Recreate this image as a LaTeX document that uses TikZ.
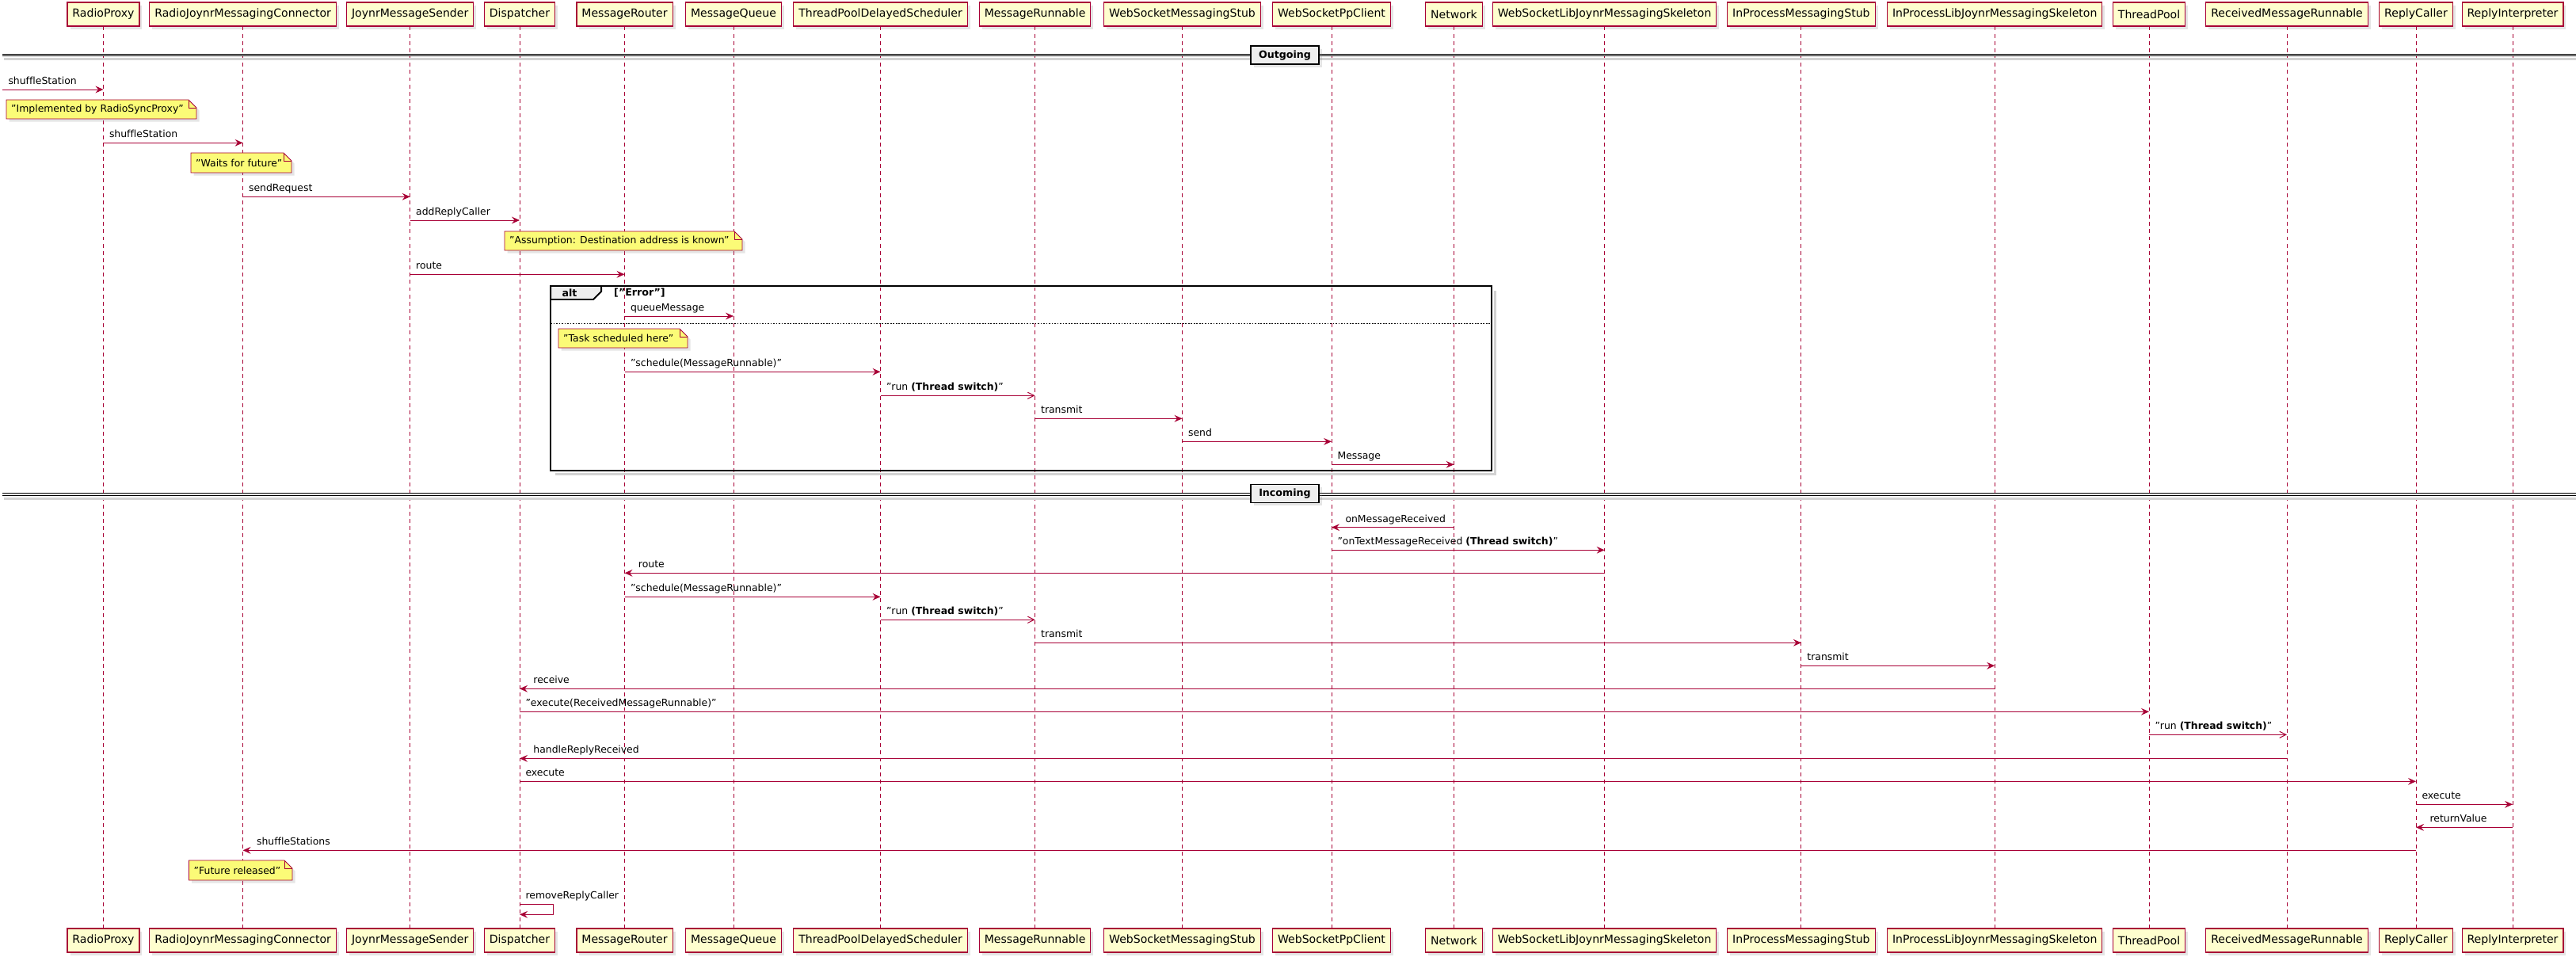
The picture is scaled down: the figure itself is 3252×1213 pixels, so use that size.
\documentclass[tikz,border=0pt]{standalone}
\usepackage{fontspec}
\setmainfont{DejaVu Sans}[Ligatures=CommonOff]
\usepackage{tikz}
\usetikzlibrary{arrows.meta,calc,shadows}
\definecolor{umlred}{HTML}{A80036}
\definecolor{partfill}{HTML}{FEFECE}
\definecolor{notefill}{HTML}{FBFB77}
\definecolor{sepfill}{HTML}{EEEEEE}
\tikzset{
	part/.style={draw=umlred, fill=partfill, line width=0.95pt, minimum height=0.9cm, inner xsep=5.5pt,
		font=\fontsize{12}{14}\selectfont, drop shadow={opacity=0.2, shadow xshift=3pt, shadow yshift=-3pt}},
	life/.style={draw=umlred, line width=0.8pt, dash pattern=on 4.2pt off 3.6pt},
	msg/.style={draw=umlred, line width=0.85pt, -{Stealth[length=8.5pt, width=7.5pt, inset=3pt]}},
	async/.style={draw=umlred, line width=0.85pt, -{Straight Barb[length=7pt, width=7pt]}},
	lbl/.style={font=\fontsize{10.6}{13}\selectfont, inner sep=0pt, text=black},
	lr/.style={lbl, pos=0, anchor=base west, xshift=6pt, yshift=5.5pt},
	ll/.style={lbl, pos=1, anchor=base west, xshift=14.5pt, yshift=5.5pt},
	notebox/.style={draw=umlred, fill=notefill, line width=0.8pt,
		drop shadow={opacity=0.2, shadow xshift=3pt, shadow yshift=-3pt}},
	notetext/.style={lbl, anchor=west},
	sepbox/.style={draw=black, fill=sepfill, line width=1.3pt, minimum width=2.58cm, minimum height=0.69cm,
		font=\bfseries\fontsize{10.8}{13}\selectfont, drop shadow={opacity=0.2, shadow xshift=3pt, shadow yshift=-3pt}},
	sepline/.style={black, line width=0.85pt},
	sepshadow/.style={gray!35, line width=2.5pt},
	altframe/.style={black, line width=1.7pt}
}
\begin{document}
\begin{tikzpicture}[x=0.03cm, y=-0.03cm]
	\path[fill=white, use as bounding box] (0,0) rectangle (3252,1213);

	\node[part] (RP) at (130.5,18) {RadioProxy};
	\node[part] (RJMC) at (306.6,18) {RadioJoynrMessagingConnector};
	\node[part] (JMS) at (517.7,18) {JoynrMessageSender};
	\node[part] (D) at (656,18) {Dispatcher};
	\node[part] (MR) at (788.5,18) {MessageRouter};
	\node[part] (MQ) at (926,18) {MessageQueue};
	\node[part] (TPDS) at (1111.5,18) {ThreadPoolDelayedScheduler};
	\node[part] (MRun) at (1306.6,18) {MessageRunnable};
	\node[part] (WSMS) at (1492.5,18) {WebSocketMessagingStub};
	\node[part] (WSPC) at (1681,18) {WebSocketPpClient};
	\node[part] (N) at (1835.5,18) {Network};
	\node[part] (WSLJMS) at (2025.6,18) {WebSocketLibJoynrMessagingSkeleton};
	\node[part] (IPMS) at (2273.9,18) {InProcessMessagingStub};
	\node[part] (IPLJMS) at (2518.2,18) {InProcessLibJoynrMessagingSkeleton};
	\node[part] (TP) at (2713,18) {ThreadPool};
	\node[part] (RMR) at (2887,18) {ReceivedMessageRunnable};
	\node[part] (RC) at (3050,18) {ReplyCaller};
	\node[part] (RI) at (3172,18) {ReplyInterpreter};

	\node[part] (RPb) at (130.5,1187) {RadioProxy};
	\node[part] (RJMCb) at (306.6,1187) {RadioJoynrMessagingConnector};
	\node[part] (JMSb) at (517.7,1187) {JoynrMessageSender};
	\node[part] (Db) at (656,1187) {Dispatcher};
	\node[part] (MRb) at (788.5,1187) {MessageRouter};
	\node[part] (MQb) at (926,1187) {MessageQueue};
	\node[part] (TPDSb) at (1111.5,1187) {ThreadPoolDelayedScheduler};
	\node[part] (MRunb) at (1306.6,1187) {MessageRunnable};
	\node[part] (WSMSb) at (1492.5,1187) {WebSocketMessagingStub};
	\node[part] (WSPCb) at (1681,1187) {WebSocketPpClient};
	\node[part] (Nb) at (1835.5,1187) {Network};
	\node[part] (WSLJMSb) at (2025.6,1187) {WebSocketLibJoynrMessagingSkeleton};
	\node[part] (IPMSb) at (2273.9,1187) {InProcessMessagingStub};
	\node[part] (IPLJMSb) at (2518.2,1187) {InProcessLibJoynrMessagingSkeleton};
	\node[part] (TPb) at (2713,1187) {ThreadPool};
	\node[part] (RMRb) at (2887,1187) {ReceivedMessageRunnable};
	\node[part] (RCb) at (3050,1187) {ReplyCaller};
	\node[part] (RIb) at (3172,1187) {ReplyInterpreter};

	\foreach \p in {RP,RJMC,JMS,D,MR,MQ,TPDS,MRun,WSMS,WSPC,N,WSLJMS,IPMS,IPLJMS,TP,RMR,RC,RI}
		\draw[life] (\p) -- (\p b);

	% Outgoing
	\draw[sepshadow] (5,74.5) -- (3252,74.5);
	\draw[sepline] (3,68.3) -- (3252,68.3) (3,71) -- (3252,71);
	\node[sepbox] (outgoing) at (1622,69.7) {Outgoing};

	\coordinate (edge) at (3,113);
	\draw[msg] (edge) -- (RP |- edge) node[lr] (m1) {shuffleStation};

	\path[notebox] (8,126) -- (238,126) -- (248,136) -- (248,150) -- (8,150) -- cycle;
	\draw[umlred, line width=0.8pt] (238,126) |- (248,136);
	\node[notetext] (n1) at (14,138) {"Implemented by RadioSyncProxy"};

	\draw[msg] (RP |- 0,180.3) -- (RJMC |- 0,180.3) node[lr] (m2) {shuffleStation};

	\path[notebox] (241,193) -- (358,193) -- (368,203) -- (368,218) -- (241,218) -- cycle;
	\draw[umlred, line width=0.8pt] (358,193) |- (368,203);
	\node[notetext] (n2) at (247,205.5) {"Waits for future"};

	\draw[msg] (RJMC |- 0,248.3) -- (JMS |- 0,248.3) node[lr] (m3) {sendRequest};
	\draw[msg] (JMS |- 0,278) -- (D |- 0,278) node[lr] (m4) {addReplyCaller};

	\path[notebox] (637,292) -- (927,292) -- (937,302) -- (937,316) -- (637,316) -- cycle;
	\draw[umlred, line width=0.8pt] (927,292) |- (937,302);
	\node[notetext] (n3) at (643,304) {"Assumption: Destination address is known"};

	\draw[msg] (JMS |- 0,346.3) -- (MR |- 0,346.3) node[lr] (m5) {route};

	% alt
	\draw[sepshadow] (1887.5,367) -- (1887.5,598.5) -- (701,598.5);
	\draw[altframe] (695,361) rectangle (1883,594);
	\draw[altframe, fill=sepfill] (695,361) -- (759,361) -- (759,368) -- (749,378) -- (695,378) -- cycle;
	\node[lbl, font=\bfseries\fontsize{10.8}{13}\selectfont] (alt) at (719,369.5) {alt};
	\node[lbl, font=\bfseries\fontsize{10.8}{13}\selectfont, anchor=west] (guard) at (775,369.5) {["Error"]};

	\draw[msg] (MR |- 0,399) -- (MQ |- 0,399) node[lr] (m6) {queueMessage};
	\draw[black, line width=0.8pt, dash pattern=on 1.5pt off 1.5pt] (695,408.3) -- (1883,408.3);

	\path[notebox] (705,415) -- (858,415) -- (868,425) -- (868,439) -- (705,439) -- cycle;
	\draw[umlred, line width=0.8pt] (858,415) |- (868,425);
	\node[notetext] (n4) at (711,427) {"Task scheduled here"};

	\draw[msg] (MR |- 0,469.3) -- (TPDS |- 0,469.3) node[lr] (m7) {"schedule(MessageRunnable)"};
	\draw[async] (TPDS |- 0,499.3) -- (MRun |- 0,499.3) node[lr] (m8) {"run \textbf{(Thread switch)}"};
	\draw[msg] (MRun |- 0,528.3) -- (WSMS |- 0,528.3) node[lr] (m9) {transmit};
	\draw[msg] (WSMS |- 0,557.3) -- (WSPC |- 0,557.3) node[lr] (m10) {send};
	\draw[msg] (WSPC |- 0,586.3) -- (N |- 0,586.3) node[lr] (m11) {Message};

	% Incoming
	\draw[sepshadow] (5,629.5) -- (3252,629.5);
	\draw[sepline] (3,622.7) -- (3252,622.7) (3,625.7) -- (3252,625.7);
	\node[sepbox] (incoming) at (1622,623) {Incoming};

	\draw[msg] (N |- 0,665.7) -- (WSPC |- 0,665.7) node[ll] (m12) {onMessageReceived};
	\draw[msg] (WSPC |- 0,694.3) -- (WSLJMS |- 0,694.3) node[lr] (m13) {"onTextMessageReceived \textbf{(Thread switch)}"};
	\draw[msg] (WSLJMS |- 0,723.3) -- (MR |- 0,723.3) node[ll] (m14) {route};
	\draw[msg] (MR |- 0,753.3) -- (TPDS |- 0,753.3) node[lr] (m15) {"schedule(MessageRunnable)"};
	\draw[async] (TPDS |- 0,782.3) -- (MRun |- 0,782.3) node[lr] (m16) {"run \textbf{(Thread switch)}"};
	\draw[msg] (MRun |- 0,811.3) -- (IPMS |- 0,811.3) node[lr] (m17) {transmit};
	\draw[msg] (IPMS |- 0,840.3) -- (IPLJMS |- 0,840.3) node[lr] (m18) {transmit};
	\draw[msg] (IPLJMS |- 0,869.3) -- (D |- 0,869.3) node[ll] (m19) {receive};
	\draw[msg] (D |- 0,898.3) -- (TP |- 0,898.3) node[lr] (m20) {"execute(ReceivedMessageRunnable)"};
	\draw[async] (TP |- 0,927.3) -- (RMR |- 0,927.3) node[lr] (m21) {"run \textbf{(Thread switch)}"};
	\draw[msg] (RMR |- 0,957.3) -- (D |- 0,957.3) node[ll] (m22) {handleReplyReceived};
	\draw[msg] (D |- 0,986.3) -- (RC |- 0,986.3) node[lr] (m23) {execute};
	\draw[msg] (RC |- 0,1015.3) -- (RI |- 0,1015.3) node[lr] (m24) {execute};
	\draw[msg] (RI |- 0,1044.3) -- (RC |- 0,1044.3) node[ll] (m25) {returnValue};
	\draw[msg] (RC |- 0,1073.3) -- (RJMC |- 0,1073.3) node[ll] (m26) {shuffleStations};

	\path[notebox] (238.5,1086) -- (359,1086) -- (369,1096) -- (369,1111) -- (238.5,1111) -- cycle;
	\draw[umlred, line width=0.8pt] (359,1086) |- (369,1096);
	\node[notetext] (n5) at (244.5,1098.5) {"Future released"};

	\draw[msg] (D |- 0,1141.3) -- ++(42,0) node[lr] (m27) {removeReplyCaller} -- ++(0,13) -- (D |- 0,1154.3);
\end{tikzpicture}
\end{document}
